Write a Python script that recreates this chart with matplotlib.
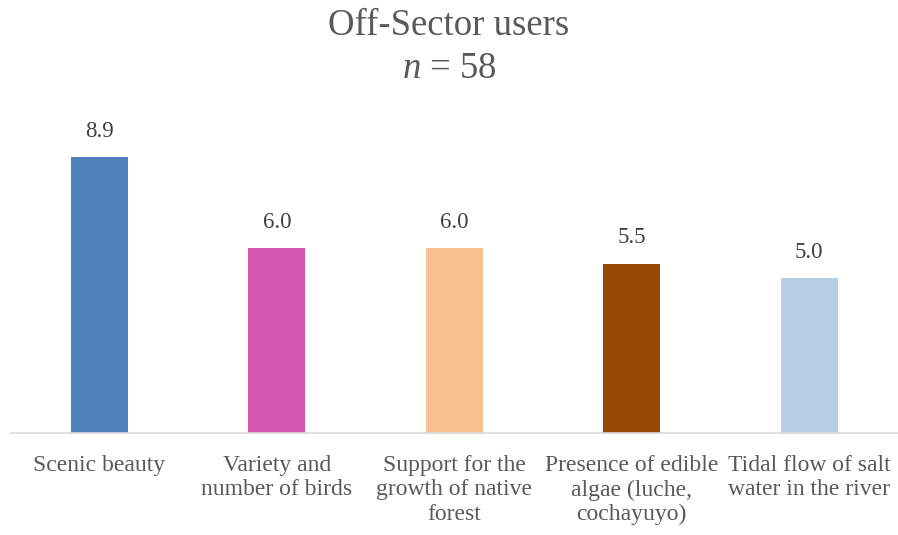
import numpy as np
import matplotlib.pyplot as plt

plt.rcParams['font.family'] = ['Liberation Serif', 'DejaVu Serif']
plt.rcParams['mathtext.fontset'] = 'custom'
plt.rcParams['mathtext.it'] = 'Liberation Serif:italic'
plt.rcParams['mathtext.rm'] = 'Liberation Serif'

categories = ['Scenic beauty', 'Variety and\nnumber of birds', 'Support for the\ngrowth of native\nforest',
              'Presence of edible\nalgae (luche,\ncochayuyo)', 'Tidal flow of salt\nwater in the river']
scores = [8.9, 5.96, 5.96, 5.46, 4.99]
colors = ['#4F81BD', '#D558AE', '#F9C091', '#974706', '#B9CDE5']

fig = plt.figure(figsize=(8.98, 5.35), dpi=100)
ax = fig.add_axes([0.0117, 0.1907, 0.9883, 0.5794])

x = np.arange(len(categories))
ax.bar(x, scores, width=0.32, color=colors)
for xi, v in zip(x, scores):
    ax.text(xi, v + 0.5, '%.1f' % v, ha='center', va='bottom', fontsize=16.5, color='#404040')

ax.set_xlim(-0.5, len(categories) - 0.5)
ax.set_ylim(0, 10)
ax.set_yticks([])
ax.set_xticks(x)
ax.set_xticklabels(categories, fontsize=17, color='#595959', linespacing=1.2)
ax.tick_params(axis='x', length=0, pad=16)
for s in ['top', 'left', 'right']:
    ax.spines[s].set_visible(False)
ax.spines['bottom'].set_color('#D9D9D9')
ax.spines['bottom'].set_linewidth(1.2)

fig.text(0.5, 0.952, 'Off-Sector users', ha='center', va='center', fontsize=26.5, color='#595959')
fig.text(0.5, 0.872, '$n$ = 58', ha='center', va='center', fontsize=26.5, color='#595959')

fig.savefig('out.png', dpi=100)
